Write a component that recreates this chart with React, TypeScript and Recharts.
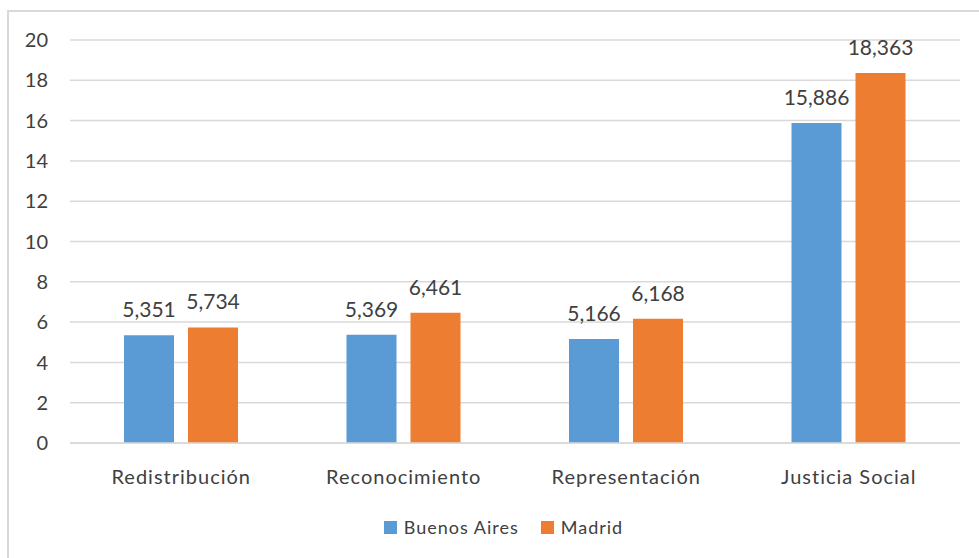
import { BarChart, Bar, XAxis, YAxis, CartesianGrid, LabelList } from 'recharts';

const categories = ['Redistribución', 'Reconocimiento', 'Representación', 'Justicia Social'];
const buenosAires = [5.351, 5.369, 5.166, 15.886];
const madrid = [5.734, 6.461, 6.168, 18.363];
const yTicks = [0, 2, 4, 6, 8, 10, 12, 14, 16, 18, 20];

const seriesNames = ['Buenos Aires', 'Madrid'];
const colors = ['#5B9BD5', '#ED7D31'];

const FONT = 'Lato, "Open Sans", sans-serif';
const TEXT = '#404040';

const data = categories.map((name, i) => ({ name, ba: buenosAires[i], md: madrid[i] }));

const fmt = (v: any) => Number(v).toFixed(3).replace('.', ',');

// legend drawn as plain html under the plot, like the excel one
function LegendBox() {
  return (
    <div style={{ position: 'absolute', left: 14, top: 516, width: 979, display: 'flex', justifyContent: 'center', alignItems: 'center',
      fontFamily: FONT, fontSize: 18, color: TEXT, letterSpacing: 1 }}>
      {seriesNames.map((s, i) => (
        <div key={s} style={{ display: 'flex', alignItems: 'center', marginRight: i === 0 ? 22 : 0 }}>
          <span style={{ width: 13, height: 13, background: colors[i], display: 'inline-block', marginRight: 7 }} />
          <span>{s}</span>
        </div>
      ))}
    </div>
  );
}

export default function App() {
  return (
    <div style={{ position: 'absolute', left: 0, top: 0, width: 979, height: 558, overflow: 'hidden', background: '#fff' }}>
      <div style={{ position: 'absolute', left: 7, top: 10, width: 1000, height: 600, border: '2px solid #D9D9D9', boxSizing: 'border-box' }} />
      <div style={{ position: 'absolute', left: 0, top: 0 }}>
        <BarChart width={979} height={558} data={data} barSize={50} barGap={14}
          margin={{ top: 40, right: 19, bottom: 85, left: 0 }}>
          <CartesianGrid vertical={false} stroke="#D9D9D9" strokeWidth={1.5} />
          <XAxis dataKey="name" height={30} axisLine={{ stroke: '#D9D9D9', strokeWidth: 1.5 }} tickLine={false} tickSize={0} tickMargin={27}
            tick={{ fill: TEXT, fontSize: 20, fontFamily: FONT, letterSpacing: 1 }} />
          <YAxis domain={[0, 20]} ticks={yTicks} axisLine={false} tickLine={false} tickSize={0} tickMargin={22} width={70}
            tick={{ fill: TEXT, fontSize: 20, fontFamily: FONT }} />
          <Bar dataKey="ba" name={seriesNames[0]} fill={colors[0]} isAnimationActive={false}>
            <LabelList dataKey="ba" position="top" offset={18} formatter={fmt} fill={TEXT} fontSize={21} fontFamily={FONT} />
          </Bar>
          <Bar dataKey="md" name={seriesNames[1]} fill={colors[1]} isAnimationActive={false}>
            <LabelList dataKey="md" position="top" offset={18} formatter={fmt} fill={TEXT} fontSize={21} fontFamily={FONT} />
          </Bar>
        </BarChart>
      </div>
      <LegendBox />
    </div>
  );
}
